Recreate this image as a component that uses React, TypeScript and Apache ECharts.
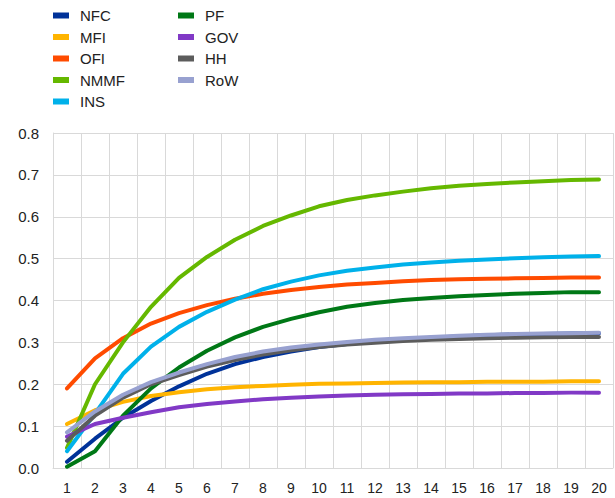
import React, { useEffect, useRef } from "react";
import * as echarts from "echarts";

const categories = ["1","2","3","4","5","6","7","8","9","10","11","12","13","14","15","16","17","18","19","20"];

const NFC = [0.015,0.07,0.12,0.16,0.195,0.225,0.248,0.265,0.278,0.289,0.296,0.302,0.307,0.311,0.314,0.317,0.319,0.32,0.321,0.322];
const MFI = [0.105,0.138,0.158,0.172,0.181,0.188,0.193,0.196,0.199,0.201,0.202,0.203,0.204,0.205,0.205,0.206,0.206,0.206,0.207,0.207];
const OFI = [0.19,0.262,0.31,0.345,0.37,0.389,0.404,0.416,0.425,0.432,0.438,0.442,0.446,0.449,0.451,0.452,0.453,0.454,0.455,0.455];
const NMMF = [0.048,0.2,0.3,0.385,0.454,0.504,0.545,0.578,0.603,0.625,0.64,0.651,0.66,0.668,0.674,0.678,0.682,0.685,0.688,0.689];
const INS = [0.04,0.13,0.225,0.29,0.337,0.373,0.402,0.427,0.445,0.46,0.471,0.479,0.486,0.491,0.495,0.498,0.501,0.503,0.505,0.506];
const PF = [0.003,0.04,0.125,0.19,0.24,0.28,0.312,0.337,0.356,0.372,0.385,0.394,0.401,0.406,0.41,0.413,0.416,0.418,0.42,0.42];
const GOV = [0.075,0.105,0.12,0.133,0.145,0.153,0.159,0.164,0.168,0.171,0.173,0.175,0.176,0.177,0.178,0.178,0.179,0.179,0.18,0.18];
const HH = [0.065,0.125,0.168,0.2,0.222,0.242,0.258,0.271,0.281,0.289,0.295,0.299,0.303,0.306,0.308,0.31,0.311,0.312,0.313,0.313];
const RoW = [0.085,0.135,0.175,0.205,0.228,0.248,0.265,0.278,0.288,0.295,0.301,0.306,0.31,0.313,0.316,0.318,0.32,0.321,0.322,0.323];

const seriesNames = ["NFC","MFI","OFI","NMMF","INS","PF","GOV","HH","RoW"];
const seriesData = [NFC, MFI, OFI, NMMF, INS, PF, GOV, HH, RoW];
const colors = ["#003299","#ffb400","#ff4b00","#65b800","#00b1ea","#007816","#8139c6","#5c5c5c","#98a1d0"];

export default function App() {
  const ref = useRef<HTMLDivElement>(null);
  useEffect(() => {
    if (!ref.current) return;
    const chart = echarts.init(ref.current, null, { renderer: "svg" });
    const legendCommon = {
      orient: "vertical" as const,
      top: 8,
      padding: 0,
      itemWidth: 16,
      itemHeight: 6,
      itemGap: 6.5,
      icon: "rect",
      textStyle: {
        fontFamily: "Liberation Sans, Arial, sans-serif",
        fontSize: 15,
        lineHeight: 15,
        color: "#222",
        padding: [0, 0, 0, 6],
      },
    };
    chart.setOption({
      animation: false,
      color: colors,
      textStyle: { fontFamily: "Liberation Sans, Arial, sans-serif" },
      legend: [
        { ...legendCommon, left: 53, data: seriesNames.slice(0, 5) },
        { ...legendCommon, left: 178, data: seriesNames.slice(5) },
      ],
      grid: { left: 53, right: 2, top: 133, bottom: 30, containLabel: false },
      xAxis: {
        type: "category",
        data: categories,
        boundaryGap: true,
        axisLine: { show: true, lineStyle: { color: "#d9d9d9", width: 1 } },
        axisTick: { show: false },
        axisLabel: { color: "#222", fontSize: 14, margin: 13 },
        splitLine: { show: true, lineStyle: { color: "#d9d9d9", width: 1 } },
      },
      yAxis: {
        type: "value",
        min: 0,
        max: 0.8,
        interval: 0.1,
        axisLine: { show: true, lineStyle: { color: "#d9d9d9", width: 1 } },
        axisTick: { show: false },
        axisLabel: { color: "#222", fontSize: 15, margin: 14, formatter: (v: number) => v.toFixed(1) },
        splitLine: { show: true, lineStyle: { color: "#d9d9d9", width: 1 } },
      },
      series: seriesNames.map((name, i) => ({
        name,
        type: "line",
        data: seriesData[i],
        symbol: "none",
        smooth: false,
        lineStyle: { width: 4, color: colors[i], cap: "round", join: "round" },
        itemStyle: { color: colors[i] },
      })),
    });
    return () => chart.dispose();
  }, []);
  return <div ref={ref} style={{ width: 615, height: 498, position: "absolute", left: 0, top: 0 }} />;
}
